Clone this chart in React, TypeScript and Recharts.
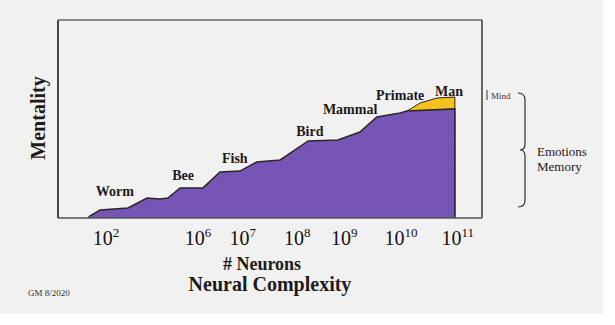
import { AreaChart, Area, XAxis, YAxis, ReferenceLine, ReferenceDot } from "recharts";

// x: position along the neuron axis (0-100), y: mentality (0-100)
const stepX = [7.1, 7.5, 9.9, 16.5, 21.0, 24.1, 25.9, 28.8, 34.2, 38.2, 42.9, 46.9, 52.4, 59.0, 66.0, 71.2, 75.2, 80.7, 82.3, 85.4, 89.4, 93.6, 93.6];
const mentality = [0, 1, 4, 5.1, 10.1, 9.6, 10.1, 15.2, 15.2, 23.2, 23.7, 28.3, 29.3, 38.9, 39.4, 43.4, 51.0, 53.0, 54.0, null, null, 55.1, 0];
const mind = [null, null, null, null, null, null, null, null, null, null, null, null, null, null, null, null, null, null, 54.0, 58.1, 60.6, 61.1, 0];

const tickPos = [11.3, 33.0, 43.6, 56.4, 67.5, 80.9, 94.3];
const tickExp = [2, 6, 7, 8, 9, 10, 11];

const animals = ["Worm", "Bee", "Fish", "Bird", "Mammal", "Primate", "Man"];
const animalX = [13.4, 29.5, 41.7, 59.4, 68.9, 80.7, 92.2];
const animalY = [13.6, 21.7, 30.3, 43.9, 55.1, 62.1, 64.1];

const data = stepX.map((x, i) => ({ x, mentality: mentality[i], mind: mind[i] }));

const serif = "'Liberation Serif', 'DejaVu Serif', serif";
const ink = "#2e2626";

function PowerTick(props: any) {
  const { x, y, payload } = props;
  const idx = tickPos.indexOf(payload.value);
  return (
    <text x={x} y={y} dy={19} textAnchor="middle" fontFamily={serif} fill="#141010" fontSize={20}>
      <tspan>10</tspan>
      <tspan dy={-8} fontSize={13}>{tickExp[idx]}</tspan>
    </text>
  );
}

export default function App() {
  return (
    <div style={{ position: "absolute", left: 0, top: 0, width: 615, height: 325, background: "#ffffff" }}>
      <div style={{ position: "absolute", left: 0, top: 0, width: 603, height: 314, background: "#f2f1f1" }} />
      <div style={{ position: "absolute", left: 0, top: 0 }}>
        <AreaChart width={615} height={325} data={data} margin={{ top: 20, right: 133, left: 58, bottom: 67 }}>
          <XAxis
            dataKey="x"
            type="number"
            domain={[0, 100]}
            ticks={tickPos}
            tick={<PowerTick />}
            tickLine={false}
            axisLine={{ stroke: "#555", strokeWidth: 1.5 }}
            height={40}
            interval={0}
          />
          <YAxis type="number" domain={[0, 100]} hide />
          <ReferenceLine x={0} stroke="#4a4545" strokeWidth={2} />
          <ReferenceLine y={100} stroke="#6a6666" strokeWidth={1.5} />
          <ReferenceLine x={100} stroke="#3e3a3a" strokeWidth={1.5} />
          <Area
            dataKey="mind"
            type="linear"
            fill="#f3c21c"
            fillOpacity={1}
            stroke={ink}
            strokeWidth={1}
            isAnimationActive={false}
          />
          <Area
            dataKey="mentality"
            type="linear"
            connectNulls
            fill="#7655b6"
            fillOpacity={1}
            stroke={ink}
            strokeWidth={1.5}
            isAnimationActive={false}
          />
          {animals.map((name, i) => (
            <ReferenceDot
              key={name}
              x={animalX[i]}
              y={animalY[i]}
              r={0}
              stroke="none"
              label={{ value: name, position: "center", fill: "#1e1a1a", fontSize: 14, fontWeight: "bold", fontFamily: serif }}
            />
          ))}
        </AreaChart>
      </div>
      <svg width={615} height={325} style={{ position: "absolute", left: 0, top: 0, pointerEvents: "none" }}>
        <text
          x={38}
          y={118}
          transform="rotate(-90 38 118)"
          textAnchor="middle"
          dominantBaseline="central"
          fontFamily={serif}
          fontWeight="bold"
          fontSize={20}
          fill="#1e1a1a"
        >
          Mentality
        </text>
        <text x={262} y={270} textAnchor="middle" fontFamily={serif} fontWeight="bold" fontSize={18} fill="#1e1a1a">
          # Neurons
        </text>
        <text x={270} y={291} textAnchor="middle" fontFamily={serif} fontWeight="bold" fontSize={20} fill="#1e1a1a">
          Neural Complexity
        </text>
        <text x={28} y={296} fontFamily={serif} fontSize={9} fill="#333">
          GM 8/2020
        </text>
        <line x1={487} y1={90} x2={487} y2={100} stroke="#333" strokeWidth={1} />
        <text x={491} y={99} fontFamily={serif} fontSize={9} fill="#333">
          Mind
        </text>
        <path
          d="M518 93 Q525 93 525 100 L525 144 Q525 150 520 150 Q525 150 525 156 L525 200 Q525 207 518 207"
          fill="none"
          stroke="#333"
          strokeWidth={1.2}
        />
        <text x={537} y={156} fontFamily={serif} fontSize={13} fill="#1e1a1a">
          Emotions
        </text>
        <text x={537} y={171} fontFamily={serif} fontSize={13} fill="#1e1a1a">
          Memory
        </text>
      </svg>
    </div>
  );
}
